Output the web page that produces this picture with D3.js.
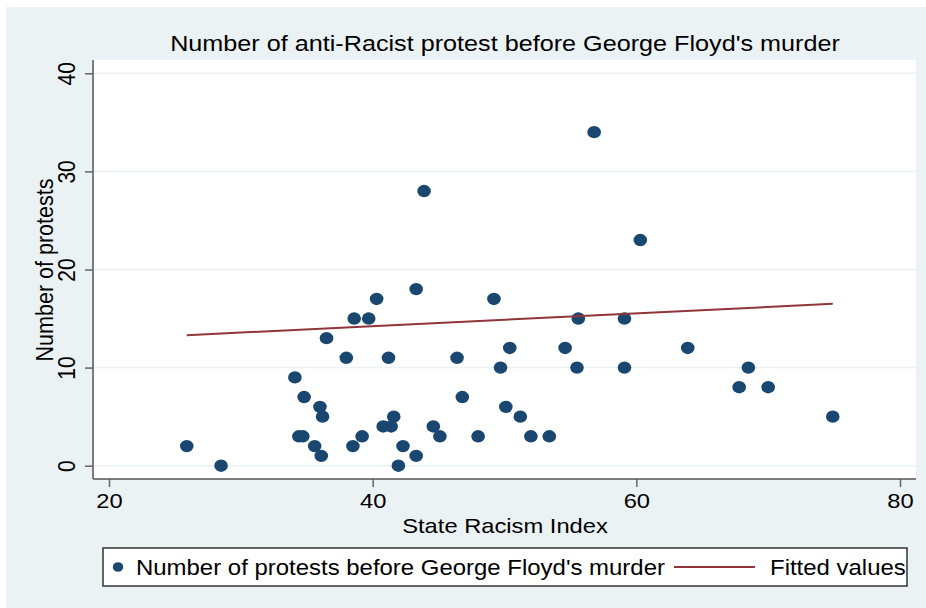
<!DOCTYPE html>
<html>
<head>
<meta charset="utf-8">
<script src="https://cdn.jsdelivr.net/npm/d3@7"></script>
<style>
  body { margin: 0; background: #fff; }
  text { font-family: "Liberation Sans", Arial, sans-serif; fill: #000; }
</style>
</head>
<body>
<svg id="chart"></svg>
<script>
// State Racism Index vs number of protests (one point per state)
let racismIndex = [25.9, 28.5, 34.1, 34.8, 36.0, 36.2, 34.4, 34.7, 35.6, 36.1,
    36.5, 38.0, 38.6, 39.7, 38.5, 39.2, 40.3, 41.2, 41.6, 40.8,
    41.4, 42.3, 43.3, 41.95, 43.3, 43.9, 44.6, 45.1, 46.4, 46.8,
    48.0, 49.2, 49.7, 50.1, 50.4, 51.2, 52.0, 53.4, 54.6, 55.5,
    55.6, 56.8, 59.1, 59.1, 60.3, 63.9, 67.8, 68.5, 70.0, 74.9];
let protests = [2, 0, 9, 7, 6, 5, 3, 3, 2, 1,
    13, 11, 15, 15, 2, 3, 17, 11, 5, 4,
    4, 2, 1, 0, 18, 28, 4, 3, 11, 7,
    3, 17, 10, 6, 12, 5, 3, 3, 12, 10,
    15, 34, 15, 10, 23, 12, 8, 10, 8, 5];
// fitted values line (endpoints)
let fitX = [25.9, 74.9];
let fitY = [13.3, 16.5];

let xTicks = [20, 40, 60, 80];
let yTicks = [0, 10, 20, 30, 40];

let chartTitle = "Number of anti-Racist protest before George Floyd's murder";
let xTitle = "State Racism Index";
let yTitle = "Number of protests";
let legendLabels = ["Number of protests before George Floyd's murder", "Fitted values"];

let width = 926, height = 608;
let plot = {left: 93, top: 60, right: 916, bottom: 479};
let stretch = 1.13;   // text in the source is a bit wider than it is tall
let dotColor = "#1a476f", lineColor = "#90353b", bgColor = "#eaf2f3";

let svg = d3.select("#chart").attr("width", width).attr("height", height);

svg.append("rect")
    .attr("x", 6).attr("y", 7)
    .attr("width", width - 6).attr("height", height - 7)
    .attr("fill", bgColor);

svg.append("rect")
    .attr("x", plot.left).attr("y", plot.top)
    .attr("width", plot.right - plot.left).attr("height", plot.bottom - plot.top)
    .attr("fill", "#fff");

let x = d3.scaleLinear().domain([20, 80]).range([109, 900]);
let y = d3.scaleLinear().domain([0, 40]).range([465.7, 73.3]);

// gridlines
svg.append("g").selectAll("line")
    .data(yTicks)
    .enter().append("line")
    .attr("x1", plot.left).attr("x2", plot.right)
    .attr("y1", d => y(d)).attr("y2", d => y(d))
    .attr("stroke", bgColor).attr("stroke-width", 1.5);

// axes
let xAxis = svg.append("g")
    .attr("transform", "translate(0," + plot.bottom + ")")
    .call(d3.axisBottom(x).tickValues(xTicks).tickSize(8).tickFormat(d3.format("d")));
xAxis.select(".domain").remove();
xAxis.selectAll("line").attr("stroke", "#666").attr("stroke-width", 1.5);
xAxis.selectAll("text")
    .attr("y", 14).attr("dy", "0.71em")
    .attr("font-size", 21)
    .attr("transform", "scale(" + stretch + ",1)");

let yAxis = svg.append("g")
    .attr("transform", "translate(" + plot.left + ",0)")
    .call(d3.axisLeft(y).tickValues(yTicks).tickSize(8).tickFormat(d3.format("d")));
yAxis.select(".domain").remove();
yAxis.selectAll("line").attr("stroke", "#666").attr("stroke-width", 1.5);
yAxis.selectAll("text")
    .attr("x", 0).attr("y", -16).attr("dy", 0)
    .attr("text-anchor", "middle")
    .attr("font-size", 21)
    .attr("transform", "scale(" + stretch + ",1) rotate(-90)");

svg.append("line")
    .attr("x1", plot.left).attr("x2", plot.right)
    .attr("y1", plot.bottom).attr("y2", plot.bottom)
    .attr("stroke", "#555").attr("stroke-width", 1.5);
svg.append("line")
    .attr("x1", plot.left).attr("x2", plot.left)
    .attr("y1", plot.top).attr("y2", plot.bottom)
    .attr("stroke", "#555").attr("stroke-width", 1.5);

// scatter points
svg.append("g").selectAll("ellipse")
    .data(racismIndex.map((d, i) => [d, protests[i]]))
    .enter().append("ellipse")
    .attr("cx", d => x(d[0]))
    .attr("cy", d => y(d[1]))
    .attr("rx", 6.8).attr("ry", 6.2)
    .attr("fill", dotColor);

// fitted line
svg.append("path")
    .datum(fitX.map((d, i) => [d, fitY[i]]))
    .attr("d", d3.line().x(d => x(d[0])).y(d => y(d[1])))
    .attr("fill", "none")
    .attr("stroke", lineColor).attr("stroke-width", 2);

function label(txt, cx, cy, size, anchor, rot) {
    let t = "translate(" + cx + "," + cy + ") scale(" + stretch + ",1)";
    if (rot) t += " rotate(" + rot + ")";
    return svg.append("text")
        .attr("transform", t)
        .attr("text-anchor", anchor)
        .attr("font-size", size)
        .text(txt);
}

label(chartTitle, 505, 51, 22.3, "middle");
label(xTitle, 505, 533, 21, "middle");
label(yTitle, 53, 270, 21.5, "middle", -90);

// legend
svg.append("rect")
    .attr("x", 103).attr("y", 548)
    .attr("width", 804).attr("height", 38)
    .attr("fill", "#fff")
    .attr("stroke", "#333").attr("stroke-width", 1.5);
svg.append("ellipse")
    .attr("cx", 118).attr("cy", 567)
    .attr("rx", 5.2).attr("ry", 4.8)
    .attr("fill", dotColor);
label(legendLabels[0], 136, 575, 21.2, "start");
svg.append("line")
    .attr("x1", 674).attr("x2", 755)
    .attr("y1", 567).attr("y2", 567)
    .attr("stroke", lineColor).attr("stroke-width", 2);
label(legendLabels[1], 770, 575, 21.2, "start");
</script>
</body>
</html>
